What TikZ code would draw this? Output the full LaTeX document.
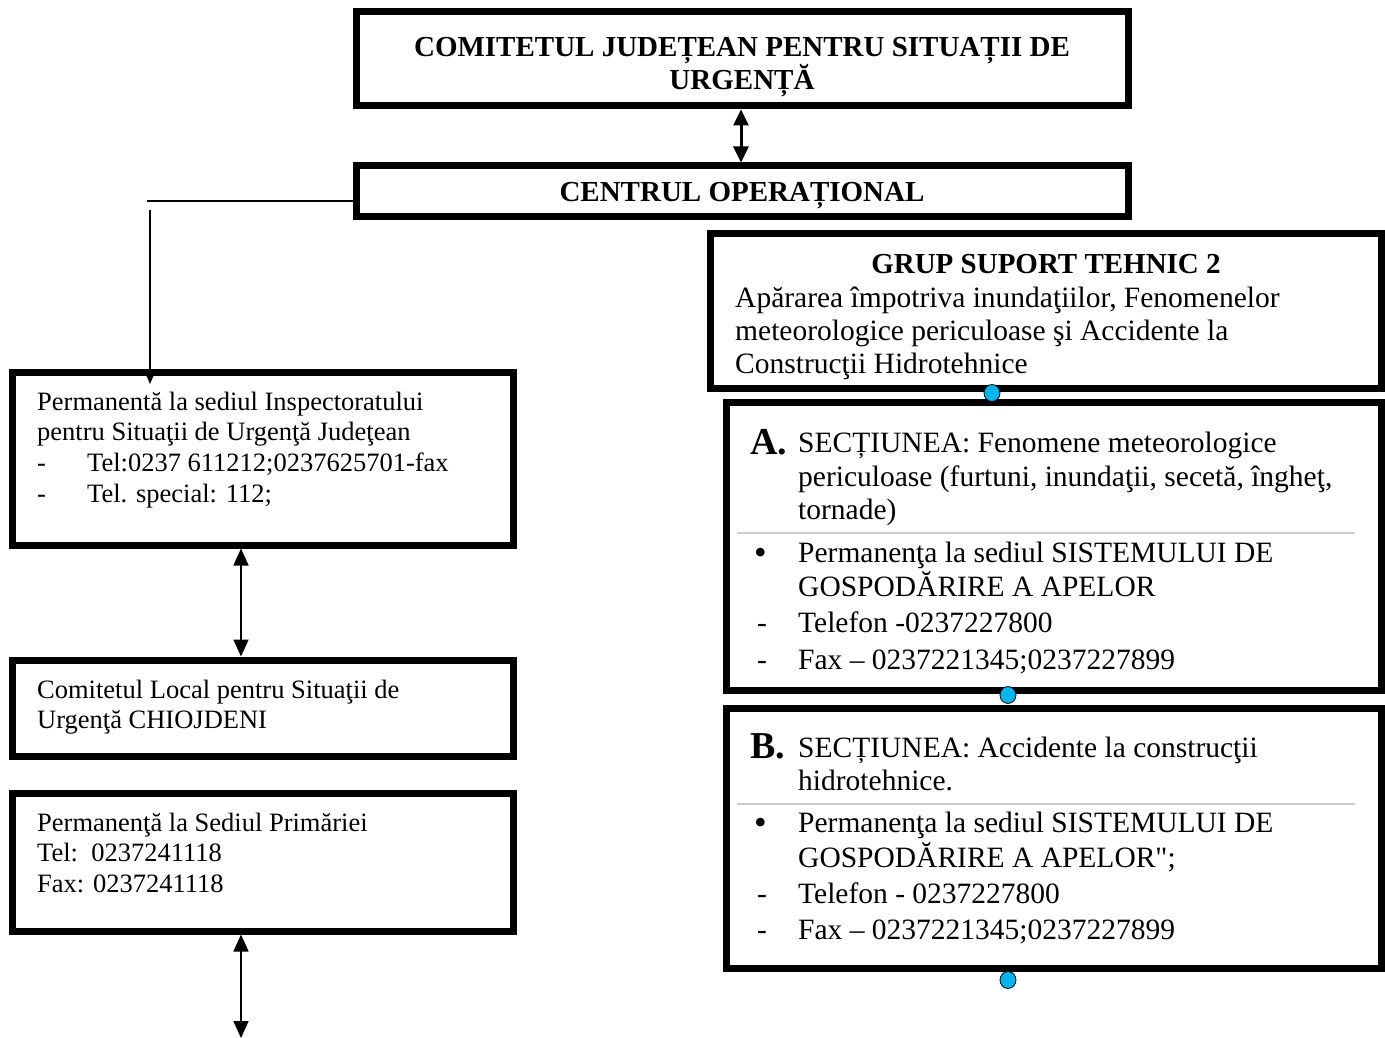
\documentclass[tikz,border=0pt]{standalone}
\usepackage{fontspec}
\setmainfont{Liberation Serif}[Ligatures=TeXOff]
\usetikzlibrary{arrows.meta,shapes.geometric}
\definecolor{dotblue}{HTML}{00B4F0}
\begin{document}
\begin{tikzpicture}[x=1pt,y=-1pt,
  frame/.style={draw, line width=7pt, inner sep=0pt},
  lt/.style={inner sep=0pt, anchor=base west, font=\fontsize{26.5}{30}\selectfont},
  rt/.style={inner sep=0pt, anchor=base west, font=\fontsize{29.5}{34}\selectfont},
  ttl/.style={inner sep=0pt, anchor=base, font=\fontsize{29}{33}\selectfont\bfseries},
  letter/.style={inner sep=0pt, anchor=base west, font=\fontsize{38}{40}\selectfont\bfseries},
  bul/.style={inner sep=0pt, anchor=base west, font=\fontsize{36}{34}\selectfont},
  dot/.style={draw=black, line width=0.8pt, fill=dotblue, ellipse, minimum width=16pt, minimum height=17pt, inner sep=0pt},
  thinarrow/.style={line width=1.6pt, {Triangle[length=17pt,width=15pt]}-{Triangle[length=17pt,width=15pt]}},
  downarrow/.style={line width=1.6pt, -{Triangle[length=12pt,width=10pt]}},
  thickarrow/.style={line width=3pt, {Triangle[length=16pt,width=15pt]}-{Triangle[length=16pt,width=15pt]}},
  sep/.style={draw=black!20, line width=1.2pt}
]
\useasboundingbox (0,0) rectangle (1385,1038);

% top boxes
\node[frame, minimum width=772pt, minimum height=94pt] (cjsu) at (742,59) {};
\node[ttl] (t1) at (742,57) {COMITETUL JUDEȚEAN PENTRU SITUAȚII DE};
\node[ttl] (t2) at (742,90) {URGENȚĂ};

\node[frame, minimum width=772pt, minimum height=50pt] (co) at (742,191) {};
\node[ttl] (t3) at (742,201) {CENTRUL OPERAȚIONAL};

\draw[thickarrow] (cjsu.south -| 741,0) -- (co.north -| 741,0);

% left column
\node[frame, minimum width=501pt, minimum height=173pt] (b1) at (262.5,458.5) {};
\node[lt] (b1a) at (37,410) {Permanentă la sediul Inspectoratului};
\node[lt] (b1b) at (37,440) {pentru Situaţii de Urgenţă Judeţean};
\node[lt] (b1c) at (37,471) {-};
\node[lt] (b1d) at (87,471) {Tel:0237 611212;0237625701-fax};
\node[lt] (b1e) at (37,502) {-};
\node[lt] (b1f) at (87,502) {Tel. special: 112;};

\node[frame, minimum width=501pt, minimum height=96pt] (b2) at (262.5,708) {};
\node[lt] (b2a) at (37,698) {Comitetul Local pentru Situaţii de};
\node[lt] (b2b) at (37,728) {Urgenţă CHIOJDENI};

\node[frame, minimum width=501pt, minimum height=138pt] (b3) at (262.5,862) {};
\node[lt] (b3a) at (37,831) {Permanenţă la Sediul Primăriei};
\node[lt] (b3b) at (37,861) {Tel:\ \ 0237241118};
\node[lt] (b3c) at (37,892) {Fax: 0237241118};

\coordinate (hl) at (147,201);
\draw[line width=1.6pt] (co.west |- hl) -- (hl);
\coordinate (vt) at (150,210);
\coordinate (vb) at (150,384);
\draw[downarrow] (vt) -- (vb);

\coordinate (ax) at (241,0);
\draw[thinarrow] (b1.south -| ax) -- (b2.north -| ax);
\coordinate (bend) at (241,1038);
\draw[thinarrow] (b3.south -| ax) -- (bend);

% right column
\node[frame, minimum width=671pt, minimum height=155pt] (g) at (1045.5,310.5) {};
\node[ttl] (g1) at (1046,273) {GRUP SUPORT TEHNIC 2};
\node[rt] (g2) at (735,307) {Apărarea împotriva inundaţiilor, Fenomenelor};
\node[rt] (g3) at (735,340) {meteorologice periculoase şi Accidente la};
\node[rt] (g4) at (735,373) {Construcţii Hidrotehnice};

\node[frame, minimum width=655pt, minimum height=288pt] (sa) at (1053.5,546) {};
\node[letter] (sa0) at (750,454) {A.};
\node[rt] (sa1) at (798,452) {SECȚIUNEA: Fenomene meteorologice};
\node[rt] (sa2) at (798,486) {periculoase (furtuni, inundaţii, secetă, îngheţ,};
\node[rt] (sa3) at (798,519) {tornade)};
\coordinate (sal) at (737,533);
\coordinate (sar) at (1355,533);
\draw[sep] (sal) -- (sar);
\node[bul] (sa4) at (754,564) {•};
\node[rt] (sa5) at (798,562) {Permanenţa la sediul SISTEMULUI DE};
\node[rt] (sa6) at (798,596) {GOSPODĂRIRE A APELOR};
\node[rt] (sa7) at (757,632) {-};
\node[rt] (sa8) at (798,632) {Telefon -0237227800};
\node[rt] (sa9) at (757,669) {-};
\node[rt] (sa10) at (798,669) {Fax – 0237221345;0237227899};

\node[frame, minimum width=655pt, minimum height=260pt] (sb) at (1053.5,838) {};
\node[letter] (sb0) at (750,758) {B.};
\node[rt] (sb1) at (798,757) {SECȚIUNEA: Accidente la construcţii};
\node[rt] (sb2) at (798,790) {hidrotehnice.};
\coordinate (sbl) at (737,804);
\coordinate (sbr) at (1355,804);
\draw[sep] (sbl) -- (sbr);
\node[bul] (sb3) at (754,834) {•};
\node[rt] (sb4) at (798,832) {Permanenţa la sediul SISTEMULUI DE};
\node[rt] (sb5) at (798,867) {GOSPODĂRIRE A APELOR";};
\node[rt] (sb6) at (757,903) {-};
\node[rt] (sb7) at (798,903) {Telefon - 0237227800};
\node[rt] (sb8) at (757,939) {-};
\node[rt] (sb9) at (798,939) {Fax – 0237221345;0237227899};

\node[dot] (d1) at (992,393) {};
\node[dot] (d2) at (1008,695) {};
\node[dot] (d3) at (1008,980) {};
\end{tikzpicture}
\end{document}
